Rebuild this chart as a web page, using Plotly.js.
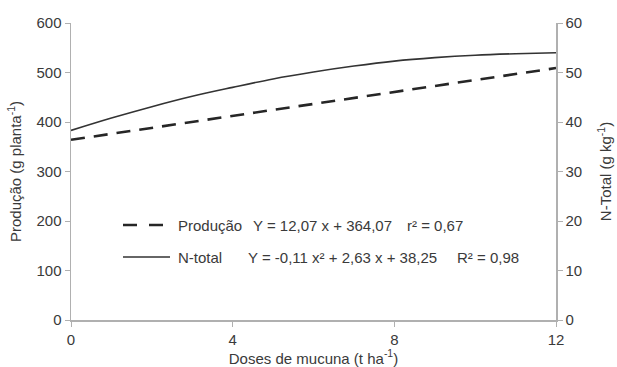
<!DOCTYPE html>
<html>
<head>
<meta charset="utf-8">
<script src="https://cdn.plot.ly/plotly-3.0.1.min.js"></script>
<style>html,body{margin:0;padding:0;background:#fff;}#chart{width:617px;height:367px;}</style>
</head>
<body>
<div id="chart"></div>
<script>
const doses = [0, 1, 2, 3, 4, 5, 6, 7, 8, 9, 10, 11, 12];
const producao = [364, 376, 388, 400, 412, 424, 437, 449, 461, 473, 485, 497, 509];
const nTotal = [38.3, 40.8, 43.1, 45.2, 47.0, 48.7, 50.1, 51.3, 52.3, 53.0, 53.5, 53.8, 54.0];
const xTicks = [0, 4, 8, 12];
const eqProducao = "Y = 12,07 x + 364,07";
const r2Producao = "r² = 0,67";
const eqNTotal = "Y = -0,11 x² + 2,63 x + 38,25";
const r2NTotal = "R² = 0,98";

const tickFont = {family: "Liberation Sans, Arial, sans-serif", size: 15, color: "#3a3a3a"};
const textFont = {family: "Liberation Sans, Arial, sans-serif", size: 15, color: "#3a3a3a"};
const axisCol = "#b0b0b0";

const traces = [
  {x: doses, y: producao, type: "scatter", mode: "lines", name: "Produção",
   line: {color: "#262626", width: 2.6, dash: "14px,9px"}, yaxis: "y"},
  {x: doses, y: nTotal, type: "scatter", mode: "lines", name: "N-total",
   line: {color: "#333", width: 1.6, shape: "spline"}, yaxis: "y2"}
];

function px2paperX(px){ return (px - 71) / (556 - 71); }
function px2paperY(py){ return (320 - py) / (320 - 23); }

const layout = {
  width: 617, height: 367,
  margin: {l: 71, r: 61, t: 23, b: 47},
  paper_bgcolor: "#fff", plot_bgcolor: "#fff",
  font: textFont,
  showlegend: false,
  xaxis: {
    range: [0, 12], tickvals: xTicks, ticktext: xTicks.map(String),
    showgrid: false, zeroline: false, showline: true, linecolor: axisCol, linewidth: 1.5,
    ticks: "outside", ticklen: 5, tickcolor: axisCol, tickwidth: 1,
    tickfont: tickFont,
    title: {text: "Doses de mucuna (t ha<sup>-1</sup>)", font: textFont, standoff: 3}
  },
  yaxis: {
    range: [0, 600], dtick: 100, tick0: 0,
    showgrid: false, zeroline: false, showline: true, linecolor: axisCol, linewidth: 1.5,
    ticks: "outside", ticklen: 5, tickcolor: axisCol, tickwidth: 1,
    tickfont: tickFont,
    title: {text: "Produção (g planta<sup>-1</sup>)", font: textFont, standoff: 11}
  },
  yaxis2: {
    range: [0, 60], dtick: 10, tick0: 0, overlaying: "y", side: "right",
    showgrid: false, zeroline: false, showline: true, linecolor: axisCol, linewidth: 1.5,
    ticks: "outside", ticklen: 5, tickcolor: axisCol, tickwidth: 1,
    tickfont: tickFont,
    title: {text: "N-Total (g kg<sup>-1</sup>)", font: textFont, standoff: 19}
  },
  shapes: [
    {type: "line", xref: "paper", yref: "paper", x0: px2paperX(123), x1: px2paperX(163),
     y0: px2paperY(225), y1: px2paperY(225), line: {color: "#262626", width: 2.6, dash: "14px,12px"}},
    {type: "line", xref: "paper", yref: "paper", x0: px2paperX(123), x1: px2paperX(170),
     y0: px2paperY(257), y1: px2paperY(257), line: {color: "#333", width: 1.6}}
  ],
  annotations: [
    {xref: "paper", yref: "paper", x: px2paperX(176), y: px2paperY(225), xanchor: "left", yanchor: "middle",
     text: "Produção", showarrow: false, font: textFont},
    {xref: "paper", yref: "paper", x: px2paperX(251), y: px2paperY(225), xanchor: "left", yanchor: "middle",
     text: eqProducao, showarrow: false, font: textFont},
    {xref: "paper", yref: "paper", x: px2paperX(405), y: px2paperY(225), xanchor: "left", yanchor: "middle",
     text: r2Producao, showarrow: false, font: textFont},
    {xref: "paper", yref: "paper", x: px2paperX(176), y: px2paperY(257), xanchor: "left", yanchor: "middle",
     text: "N-total", showarrow: false, font: textFont},
    {xref: "paper", yref: "paper", x: px2paperX(246), y: px2paperY(257), xanchor: "left", yanchor: "middle",
     text: eqNTotal, showarrow: false, font: textFont},
    {xref: "paper", yref: "paper", x: px2paperX(455), y: px2paperY(257), xanchor: "left", yanchor: "middle",
     text: r2NTotal, showarrow: false, font: textFont}
  ]
};

Plotly.newPlot("chart", traces, layout, {displayModeBar: false, staticPlot: true});
</script>
</body>
</html>
